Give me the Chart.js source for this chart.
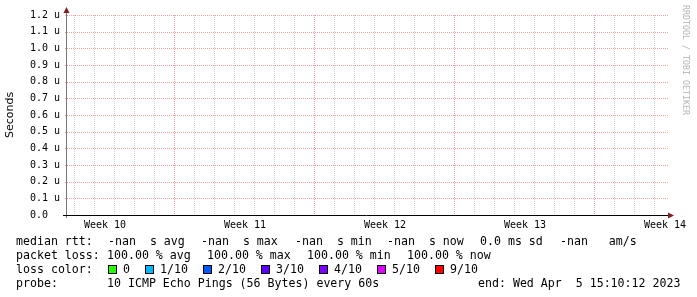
<!DOCTYPE html>
<html>
<head>
<meta charset="utf-8">
<script src="https://cdn.jsdelivr.net/npm/chart.js@4/dist/chart.umd.min.js"></script>
<style>
  html, body { margin: 0; padding: 0; background: #fff; }
  #wrap { position: relative; width: 697px; height: 297px; overflow: hidden; }
  #wrap canvas { position: absolute; left: 0; top: 0; }
  .lg { position: absolute; font: 11.6px 'DejaVu Sans Mono', monospace; line-height: 14px; white-space: pre; color: #000; }
  .sw { position: absolute; width: 7px; height: 7px; border: 1px solid #000; }
  #mark { position: absolute; left: 691px; top: 5px; transform-origin: 0 0; transform: rotate(90deg);
          font: 8.3px 'DejaVu Sans Mono', monospace; line-height: 10px; color: #b5b5b5; white-space: pre; }
</style>
</head>
<body>
<div id="wrap">
  <canvas id="rtt" width="697" height="297"></canvas>
  <div id="mark">RRDTOOL / TOBI OETIKER</div>
</div>
<script>
// x axis in days from the left edge of the graph
const weekLabels = ['Week 10', 'Week 11', 'Week 12', 'Week 13', 'Week 14'];
const weekLabelDays = [1.9, 8.9, 15.9, 22.9, 29.9];
const yTickValues = [0, 0.1, 0.2, 0.3, 0.4, 0.5, 0.6, 0.7, 0.8, 0.9, 1.0, 1.1, 1.2];
const yTickLabels = ['0.0', '0.1 u', '0.2 u', '0.3 u', '0.4 u', '0.5 u', '0.6 u',
                     '0.7 u', '0.8 u', '0.9 u', '1.0 u', '1.1 u', '1.2 u'];

// no samples: every median rtt is nan
const rttSeries = [];

const statNames = ['avg', 'max', 'min', 'now'];
const rttStats = [NaN, NaN, NaN, NaN];
const lossStats = [100, 100, 100, 100];
const rttSd = 0.0;
const rttAmS = NaN;
const lossLabels = ['0', '1/10', '2/10', '3/10', '4/10', '5/10', '9/10'];
const lossColors = ['#26ff00', '#00b8ff', '#0059ff', '#5e00ff', '#7e00ff', '#dd00ff', '#ff0000'];
const probeText = '10 ICMP Echo Pings (56 Bytes) every 60s';
const endText = 'end: Wed Apr  5 15:10:12 2023';

const GRID = 'rgb(208,208,208)';
const MGRID = 'rgb(245,160,160)';
const ARROW = 'rgb(128,31,31)';

// day grid + week grid + label positions
const xTicks = [];
for (let k = 0; k < 30; k++) {
  xTicks.push({ value: 0.35 + k, kind: (k - 5) % 7 === 0 ? 'week' : 'day', label: '' });
}
weekLabels.forEach((l, i) => xTicks.push({ value: weekLabelDays[i], kind: 'label', label: l }));
xTicks.sort((a, b) => a.value - b.value);

// dotted rrdtool style grid, taken from the chart scales
const gridPlugin = {
  id: 'rrdGrid',
  beforeDatasetsDraw(chart) {
    const { ctx, chartArea: a, scales } = chart;
    ctx.save();
    scales.x.ticks.forEach((t, i) => {
      const kind = xTicks[i].kind;
      if (kind === 'label') return;
      ctx.fillStyle = kind === 'week' ? MGRID : GRID;
      const px = Math.round(scales.x.getPixelForValue(t.value));
      for (let y = Math.round(a.top); y < a.bottom; y += 2) ctx.fillRect(px, y, 1, 1);
    });
    ctx.fillStyle = MGRID;
    scales.y.ticks.forEach(t => {
      const py = Math.round(scales.y.getPixelForValue(t.value));
      for (let x = Math.round(a.left) - 2; x < a.right; x += 2) ctx.fillRect(x, py, 1, 1);
    });
    ctx.restore();
  }
};

const axesPlugin = {
  id: 'rrdAxes',
  afterDraw(chart) {
    const { ctx, chartArea: a } = chart;
    ctx.save();
    // y axis
    ctx.strokeStyle = '#777';
    ctx.lineWidth = 1;
    ctx.beginPath();
    ctx.moveTo(a.left - 0.5, a.top - 5);
    ctx.lineTo(a.left - 0.5, a.bottom + 3);
    ctx.stroke();
    // x axis
    ctx.strokeStyle = '#000';
    ctx.beginPath();
    ctx.moveTo(a.left - 4, a.bottom + 0.5);
    ctx.lineTo(a.right + 1, a.bottom + 0.5);
    ctx.stroke();
    // arrows
    ctx.fillStyle = ARROW;
    ctx.beginPath();
    ctx.moveTo(a.left - 0.5, a.top - 8);
    ctx.lineTo(a.left - 3.5, a.top - 2);
    ctx.lineTo(a.left + 2.5, a.top - 2);
    ctx.closePath();
    ctx.fill();
    ctx.beginPath();
    ctx.moveTo(a.right + 5, a.bottom + 0.5);
    ctx.lineTo(a.right - 1, a.bottom - 2.5);
    ctx.lineTo(a.right - 1, a.bottom + 3.5);
    ctx.closePath();
    ctx.fill();
    ctx.restore();
  }
};

new Chart(document.getElementById('rtt'), {
  type: 'line',
  data: {
    datasets: [{
      label: 'median rtt',
      data: rttSeries,
      borderColor: '#000',
      pointRadius: 0
    }]
  },
  options: {
    responsive: false,
    animation: false,
    layout: { padding: { top: 15, right: 28, bottom: 0, left: 0 } },
    plugins: { legend: { display: false }, tooltip: { enabled: false } },
    scales: {
      x: {
        type: 'linear',
        min: 0,
        max: 30.1,
        afterBuildTicks: s => { s.ticks = xTicks.map(t => ({ value: t.value })); },
        afterFit: s => { s.height = 82; },
        ticks: {
          autoSkip: false,
          maxRotation: 0,
          padding: 4,
          color: '#000',
          font: { family: 'DejaVu Sans Mono', size: 10 },
          callback: (v, i) => xTicks[i].label
        },
        grid: { display: false, drawTicks: false, tickLength: 0 },
        border: { display: false }
      },
      y: {
        type: 'linear',
        min: 0,
        max: 1.2,
        afterBuildTicks: s => { s.ticks = yTickValues.map(v => ({ value: v })); },
        afterFit: s => { s.width = 67; },
        ticks: {
          padding: 7,
          color: '#000',
          font: { family: 'DejaVu Sans Mono', size: 10 },
          callback: (v, i) => yTickLabels[i].padEnd(5)
        },
        grid: { display: false, drawTicks: false, tickLength: 0 },
        border: { display: false },
        title: {
          display: true,
          text: 'Seconds',
          color: '#000',
          font: { family: 'DejaVu Sans', size: 11 },
          padding: { top: 4, bottom: 0 }
        }
      }
    }
  },
  plugins: [gridPlugin, axesPlugin]
});

// legend text under the graph
const wrap = document.getElementById('wrap');
function put(text, x, yc) {
  const d = document.createElement('div');
  d.className = 'lg';
  d.textContent = text;
  d.style.left = x + 'px';
  d.style.top = (yc - 7) + 'px';
  wrap.appendChild(d);
  return d;
}
const fmt = v => isNaN(v) ? '-nan' : v.toFixed(1);

put('median rtt:', 16, 241);
[108, 201, 295, 387].forEach((x, i) => put(fmt(rttStats[i]) + '  s ' + statNames[i], x, 241));
put(rttSd.toFixed(1) + ' ms sd', 480, 241);
put(fmt(rttAmS) + '   am/s', 560, 241);

put('packet loss:', 16, 255);
[107, 207, 307, 407].forEach((x, i) => put(lossStats[i].toFixed(2) + ' % ' + statNames[i], x, 255));

put('loss color:', 16, 269);
let lx = 108;
lossLabels.forEach((l, i) => {
  const sq = document.createElement('div');
  sq.className = 'sw';
  sq.style.left = lx + 'px';
  sq.style.top = '265px';
  sq.style.background = lossColors[i];
  wrap.appendChild(sq);
  put(l, lx + 15, 269);
  lx += 15 + l.length * 7 + 15;
});

put('probe:', 16, 283);
put(probeText, 107, 283);
put(endText, 478, 283);
</script>
</body>
</html>
